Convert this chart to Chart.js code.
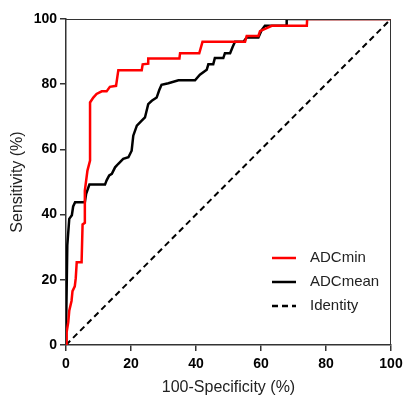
<!DOCTYPE html>
<html>
<head>
<meta charset="utf-8">
<script src="https://cdn.jsdelivr.net/npm/chart.js@4"></script>
<style>
    html, body { margin: 0; padding: 0; background: #fff; }
    #wrap { width: 406px; height: 396px; position: relative; }
</style>
</head>
<body>
<div id="wrap"><canvas id="roc"></canvas></div>
<script>
// ROC curves (100-specificity, sensitivity in %)
const minFpr  = [0, 0.2, 0.7, 1.0, 1.7, 2.0, 2.7, 3.0, 3.3, 4.8, 5.1, 5.8, 5.8, 6.6, 7.4, 7.4, 8.4, 9.4, 11.0, 12.5, 13.5, 15.4, 16.1, 23.3, 23.6, 25.3, 25.3, 34.9, 35.1, 41.0, 42.0, 55.1, 55.6, 59.2, 59.7, 63.3, 74.1, 74.2, 100];
const minTpr  = [0, 4.0, 7.0, 10.5, 13.5, 16.5, 18.0, 20.5, 25.4, 25.4, 37.0, 37.5, 47.4, 53.5, 56.6, 74.4, 75.9, 77.0, 77.8, 77.8, 79.2, 79.5, 84.3, 84.3, 86.1, 86.3, 87.9, 87.9, 89.5, 89.5, 93.0, 93.0, 94.8, 94.8, 96.3, 97.9, 97.9, 100, 100];
const meanFpr = [0, 0, 0.4, 1.0, 1.8, 2.2, 2.8, 5.8, 6.2, 7.2, 12.0, 12.5, 13.3, 14.1, 15.1, 16.1, 17.6, 19.2, 20.2, 20.7, 21.8, 23.3, 24.3, 25.3, 26.4, 27.9, 28.7, 29.4, 31.5, 34.6, 39.7, 41.2, 43.3, 43.8, 45.3, 45.8, 48.4, 48.9, 50.5, 51.3, 52.0, 54.6, 55.6, 59.2, 60.2, 61.2, 67.9, 67.9, 100];
const meanTpr = [0, 3.6, 30.6, 38.7, 39.8, 42.5, 43.8, 43.8, 46.4, 49.2, 49.2, 50.5, 52.0, 52.5, 54.5, 55.6, 57.1, 57.6, 59.6, 64.2, 67.3, 68.8, 69.8, 73.9, 74.9, 75.9, 78.2, 79.8, 80.3, 81.2, 81.2, 82.9, 84.4, 86.1, 86.1, 88.0, 88.0, 89.5, 89.5, 91.5, 93.0, 93.0, 94.3, 94.3, 96.6, 97.9, 97.9, 100, 100];
const identity = [0, 100];
const seriesNames = ['ADCmin', 'ADCmean', 'Identity'];

const FONT = "'Liberation Sans', Arial, sans-serif";

const toPoints = (xs, ys) => xs.map((x, i) => ({ x, y: ys[i] }));

const series = [
    { label: seriesNames[0], color: '#ff0000', dash: [] },
    { label: seriesNames[1], color: '#000000', dash: [] },
    { label: seriesNames[2], color: '#000000', dash: [6, 4] },
];

// frame on top/right + legend drawn inside the plot
const framePlugin = {
    id: 'frame',
    afterDraw(chart) {
        const { ctx, chartArea: a } = chart;
        ctx.save();
        ctx.strokeStyle = '#333';
        ctx.lineWidth = 1;
        ctx.beginPath();
        ctx.moveTo(a.left, a.top + 0.5);
        ctx.lineTo(a.right - 0.5, a.top + 0.5);
        ctx.lineTo(a.right - 0.5, a.bottom);
        ctx.stroke();

        ctx.font = '15px ' + FONT;
        ctx.textBaseline = 'middle';
        ctx.fillStyle = '#222';
        const rows = [258, 282, 306];
        series.forEach((s, i) => {
            ctx.strokeStyle = s.color;
            ctx.lineWidth = 2.5;
            ctx.setLineDash(s.dash);
            ctx.beginPath();
            ctx.moveTo(272, rows[i]);
            ctx.lineTo(296, rows[i]);
            ctx.stroke();
            ctx.setLineDash([]);
            ctx.fillText(s.label, 310, rows[i]);
        });
        ctx.restore();
    }
};

const axisCommon = {
    type: 'linear',
    min: 0,
    max: 100,
    ticks: { stepSize: 20, color: '#000', font: { family: FONT, size: 14, weight: 'bold' }, padding: 3 },
    grid: { drawOnChartArea: false, drawTicks: true, tickLength: 6, color: '#333', lineWidth: 1.5 },
    border: { color: '#333', width: 1.5 },
};

new Chart(document.getElementById('roc'), {
    type: 'line',
    data: {
        datasets: [
            { label: series[0].label, data: toPoints(minFpr, minTpr), borderColor: series[0].color, borderWidth: 2.5 },
            { label: series[1].label, data: toPoints(meanFpr, meanTpr), borderColor: series[1].color, borderWidth: 2.5 },
            { label: series[2].label, data: toPoints(identity, identity), borderColor: series[2].color, borderWidth: 2, borderDash: series[2].dash },
        ]
    },
    options: {
        responsive: true,
        maintainAspectRatio: false,
        animation: false,
        layout: { padding: { top: 19, right: 15, left: 0, bottom: 0 } },
        elements: { point: { radius: 0 }, line: { tension: 0 } },
        plugins: { legend: { display: false }, tooltip: { enabled: false } },
        scales: {
            x: {
                ...axisCommon,
                ticks: { ...axisCommon.ticks, padding: 5 },
                title: { display: true, text: '100-Specificity (%)', color: '#222', font: { family: FONT, size: 16, lineHeight: 1 }, padding: { top: 8, bottom: 0 } },
                afterFit: s => { s.height = 51; s.paddingRight = 0; s.paddingLeft = 0; }
            },
            y: {
                ...axisCommon,
                title: { display: true, text: 'Sensitivity (%)', color: '#222', font: { family: FONT, size: 16 }, padding: { bottom: 0, top: 8 } },
                afterFit: s => { s.width = 66; s.paddingTop = 0; s.paddingBottom = 0; }
            }
        }
    },
    plugins: [framePlugin]
});
</script>
</body>
</html>
